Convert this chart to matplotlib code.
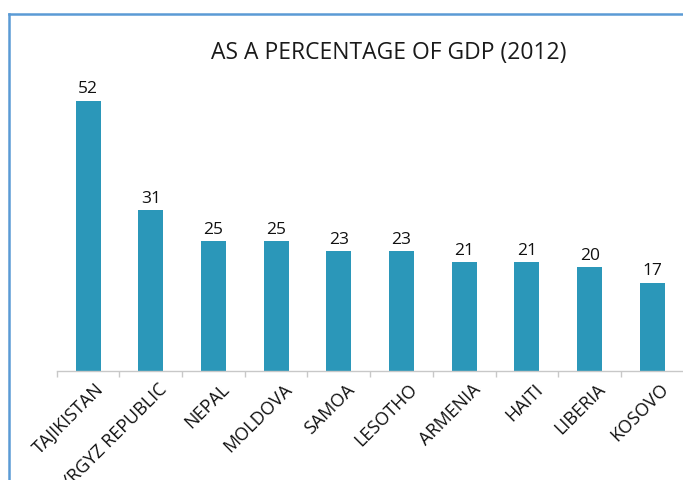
import matplotlib
matplotlib.use("Agg")
import matplotlib.pyplot as plt
from matplotlib.lines import Line2D

# Remittances as a percentage of GDP, 2012
countries = ["TAJIKISTAN", "KYRGYZ REPUBLIC", "NEPAL", "MOLDOVA", "SAMOA",
             "LESOTHO", "ARMENIA", "HAITI", "LIBERIA", "KOSOVO"]
values = [52, 31, 25, 25, 23, 23, 21, 21, 20, 17]

plt.rcParams["font.family"] = ["Open Sans", "DejaVu Sans"]

W, H = 683, 481
fig = plt.figure(figsize=(W / 100, H / 100), dpi=100)

# axes placed in pixel terms, then converted to figure fractions
left, right = 56.7, 683.7
base_y, top_y = 372, 86
ax = fig.add_axes([left / W, 1 - base_y / H, (right - left) / W, (base_y - top_y) / H])

x = list(range(len(countries)))
bars = ax.bar(x, values, width=0.4, color="#2b97b9", zorder=2)
ax.bar_label(bars, labels=[str(v) for v in values], padding=3,
             fontsize=12.5, color="#111111")

ax.set_xlim(-0.5, len(countries) - 0.5)
ax.set_ylim(0, 55)

for s in ["top", "right", "left"]:
    ax.spines[s].set_visible(False)
ax.spines["bottom"].set_color("#c8c8c8")
ax.spines["bottom"].set_linewidth(1)

ax.set_yticks([])
# boundary ticks between categories
ax.set_xticks([i - 0.5 for i in range(len(countries) + 1)])
ax.set_xticklabels([])
ax.tick_params(axis="x", length=4, color="#c8c8c8", width=1)

for i, name in enumerate(countries):
    ax.annotate(name, xy=(i, 0), xycoords="data", xytext=(5, -6),
                textcoords="offset points", rotation=45, rotation_mode="anchor",
                ha="right", va="top", fontsize=13, color="#111111",
                annotation_clip=False)

fig.text(389 / W, 1 - 59 / H, "AS A PERCENTAGE OF GDP (2012)",
         ha="center", va="baseline", fontsize=16.5, color="#1a1a1a")

# blue frame, top and left edges only (image is cropped)
frame_c = "#5b9bd5"
fig.add_artist(Line2D([8.5 / W, 1], [1 - 14.5 / H, 1 - 14.5 / H], color=frame_c,
                      linewidth=1.8, transform=fig.transFigure))
fig.add_artist(Line2D([8.5 / W, 8.5 / W], [0, 1 - 14.5 / H], color=frame_c,
                      linewidth=1.8, transform=fig.transFigure))

fig.savefig("out.png", dpi=100)
plt.close(fig)
